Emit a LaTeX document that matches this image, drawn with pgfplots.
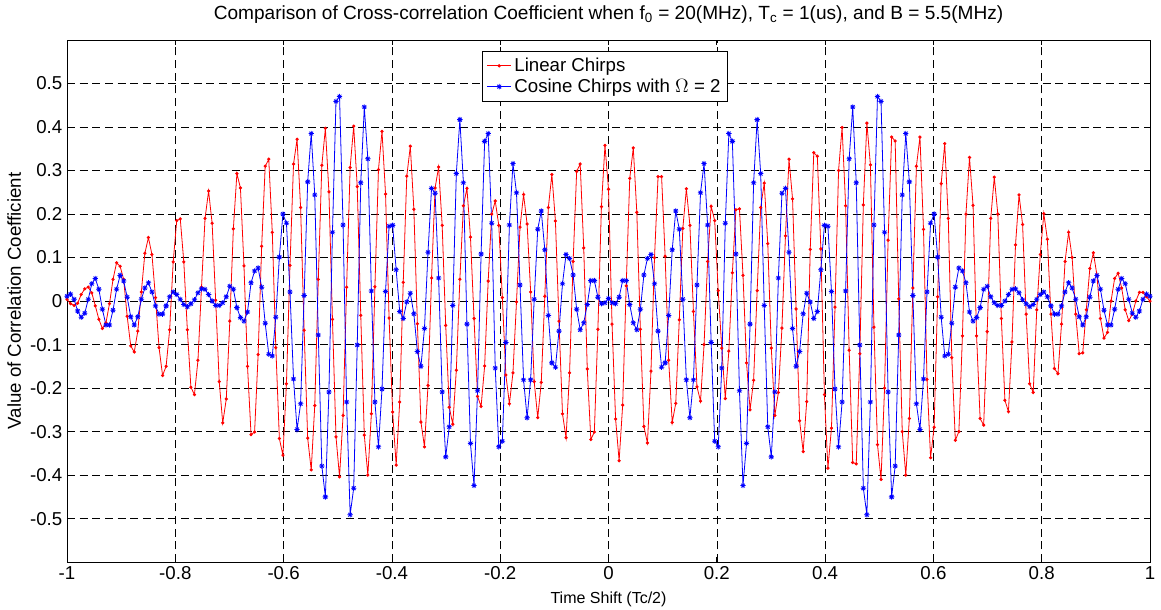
\documentclass[border=0pt]{standalone}
\usepackage{pgfplots}
\pgfplotsset{compat=1.18}
\usepackage{pgfplotstable}
\usepackage{fontspec}
\setmainfont{Liberation Sans}

\pgfdeclareplotmark{ast8}{%
  \pgfpathmoveto{\pgfqpoint{-\pgfplotmarksize}{0pt}}\pgfpathlineto{\pgfqpoint{\pgfplotmarksize}{0pt}}%
  \pgfpathmoveto{\pgfqpoint{0pt}{-\pgfplotmarksize}}\pgfpathlineto{\pgfqpoint{0pt}{\pgfplotmarksize}}%
  \pgfpathmoveto{\pgfqpoint{-0.707\pgfplotmarksize}{-0.707\pgfplotmarksize}}\pgfpathlineto{\pgfqpoint{0.707\pgfplotmarksize}{0.707\pgfplotmarksize}}%
  \pgfpathmoveto{\pgfqpoint{-0.707\pgfplotmarksize}{0.707\pgfplotmarksize}}\pgfpathlineto{\pgfqpoint{0.707\pgfplotmarksize}{-0.707\pgfplotmarksize}}%
  \pgfusepathqstroke}

\pgfplotstableread[row sep=\\, header=false]{
0.004\\ -0.006\\ -0.010\\ -0.005\\ 0.015\\ 0.028\\ 0.032\\ 0.019\\ -0.011\\ -0.042\\
-0.063\\ -0.050\\ -0.006\\ 0.050\\ 0.088\\ 0.080\\ 0.050\\ -0.035\\ -0.103\\ -0.117\\
-0.069\\ 0.021\\ 0.110\\ 0.146\\ 0.107\\ 0.008\\ -0.107\\ -0.171\\ -0.150\\ -0.066\\
0.090\\ 0.185\\ 0.189\\ 0.090\\ -0.066\\ -0.198\\ -0.215\\ -0.136\\ 0.032\\ 0.190\\
0.253\\ 0.179\\ 0.002\\ -0.185\\ -0.280\\ -0.225\\ -0.046\\ 0.166\\ 0.293\\ 0.260\\
0.081\\ -0.150\\ -0.307\\ -0.301\\ -0.123\\ 0.126\\ 0.310\\ 0.326\\ 0.158\\ -0.107\\
-0.316\\ -0.354\\ -0.190\\ 0.082\\ 0.315\\ 0.372\\ 0.215\\ -0.067\\ -0.315\\ -0.388\\
-0.240\\ 0.050\\ 0.312\\ 0.397\\ 0.251\\ -0.042\\ -0.312\\ -0.404\\ -0.263\\ 0.032\\
0.307\\ 0.402\\ 0.263\\ -0.033\\ -0.308\\ -0.400\\ -0.259\\ 0.033\\ 0.302\\ 0.390\\
0.246\\ -0.039\\ -0.255\\ -0.377\\ -0.232\\ 0.043\\ 0.287\\ 0.356\\ 0.211\\ -0.052\\
-0.278\\ -0.335\\ -0.194\\ 0.053\\ 0.260\\ 0.308\\ 0.174\\ -0.056\\ -0.244\\ -0.283\\
-0.159\\ 0.050\\ 0.219\\ 0.259\\ 0.147\\ -0.040\\ -0.219\\ -0.242\\ -0.149\\ 0.046\\
0.200\\ 0.230\\ 0.174\\ 0.008\\ -0.170\\ -0.236\\ -0.165\\ -0.002\\ 0.170\\ 0.245\\
0.177\\ 0.021\\ -0.185\\ -0.268\\ -0.187\\ 0.011\\ 0.215\\ 0.291\\ 0.184\\ -0.046\\
-0.259\\ -0.314\\ -0.165\\ 0.091\\ 0.298\\ 0.315\\ 0.122\\ -0.156\\ -0.318\\ -0.301\\
-0.065\\ 0.217\\ 0.358\\ 0.257\\ -0.053\\ -0.271\\ -0.367\\ -0.239\\ 0.035\\ 0.282\\
0.352\\ 0.204\\ -0.065\\ -0.288\\ -0.326\\ -0.161\\ 0.100\\ 0.286\\ 0.286\\ 0.103\\
-0.136\\ -0.279\\ -0.235\\ -0.043\\ 0.167\\ 0.258\\ 0.174\\ -0.024\\ -0.197\\ -0.230\\
-0.100\\ 0.091\\ 0.218\\ 0.185\\ 0.024\\ -0.108\\ -0.224\\ -0.115\\ 0.065\\ 0.210\\
0.212\\ 0.059\\ -0.142\\ -0.250\\ -0.182\\ 0.024\\ 0.215\\ 0.271\\ 0.132\\ -0.108\\
-0.263\\ -0.210\\ -0.062\\ 0.150\\ 0.326\\ 0.235\\ -0.018\\ -0.275\\ -0.346\\ -0.231\\
0.119\\ 0.341\\ 0.333\\ 0.120\\ -0.215\\ -0.384\\ -0.292\\ -0.014\\ 0.300\\ 0.399\\
0.219\\ -0.113\\ -0.371\\ -0.374\\ -0.121\\ 0.221\\ 0.409\\ 0.313\\ -0.060\\ -0.330\\
-0.410\\ -0.200\\ 0.140\\ 0.377\\ 0.368\\ 0.005\\ -0.300\\ -0.400\\ -0.270\\ 0.030\\
0.310\\ 0.377\\ 0.165\\ -0.180\\ -0.360\\ -0.290\\ 0.010\\ 0.270\\ 0.362\\ 0.190\\
-0.130\\ -0.320\\ -0.300\\ -0.080\\ 0.200\\ 0.330\\ 0.220\\ -0.080\\ -0.270\\ -0.285\\
-0.070\\ 0.190\\ 0.285\\ 0.200\\ -0.040\\ -0.228\\ -0.254\\ -0.094\\ 0.129\\ 0.244\\
0.176\\ -0.030\\ -0.190\\ -0.210\\ -0.020\\ 0.107\\ 0.201\\ 0.142\\ -0.030\\ -0.155\\
-0.167\\ -0.053\\ 0.091\\ 0.158\\ 0.100\\ -0.030\\ -0.121\\ -0.119\\ -0.020\\ 0.075\\
0.111\\ 0.060\\ -0.040\\ -0.085\\ -0.072\\ 0.000\\ 0.052\\ 0.064\\ 0.030\\ -0.020\\
-0.045\\ -0.030\\ 0.000\\ 0.020\\ 0.020\\ 0.010\\ 0.000\\
}\redtab

\pgfplotstableread[row sep=\\, header=false]{
0.011\\ 0.016\\ 0.004\\ -0.023\\ -0.037\\ -0.028\\ 0.004\\ 0.040\\ 0.052\\ 0.027\\
-0.019\\ -0.055\\ -0.055\\ -0.021\\ 0.027\\ 0.059\\ 0.046\\ 0.009\\ -0.036\\ -0.055\\
-0.036\\ 0.004\\ 0.030\\ 0.042\\ 0.021\\ -0.011\\ -0.030\\ -0.030\\ -0.011\\ 0.010\\
0.021\\ 0.015\\ 0.004\\ -0.008\\ -0.013\\ -0.006\\ 0.003\\ 0.019\\ 0.028\\ 0.027\\
0.015\\ 0.000\\ -0.010\\ -0.010\\ -0.004\\ 0.010\\ 0.034\\ 0.027\\ -0.015\\ -0.038\\
-0.046\\ -0.025\\ 0.042\\ 0.069\\ 0.076\\ 0.032\\ -0.051\\ -0.122\\ -0.126\\ -0.037\\
0.101\\ 0.200\\ 0.179\\ 0.021\\ -0.179\\ -0.295\\ -0.236\\ 0.013\\ 0.274\\ 0.385\\
0.244\\ -0.078\\ -0.379\\ -0.450\\ -0.209\\ 0.158\\ 0.459\\ 0.470\\ 0.175\\ -0.232\\
-0.491\\ -0.430\\ -0.101\\ 0.272\\ 0.446\\ 0.327\\ 0.023\\ -0.232\\ -0.335\\ -0.202\\
0.022\\ 0.172\\ 0.174\\ 0.072\\ -0.024\\ -0.040\\ -0.002\\ 0.018\\ -0.029\\ -0.116\\
-0.150\\ -0.063\\ 0.112\\ 0.259\\ 0.248\\ 0.053\\ -0.209\\ -0.358\\ -0.289\\ -0.010\\
0.293\\ 0.417\\ 0.272\\ -0.053\\ -0.327\\ -0.424\\ -0.206\\ 0.108\\ 0.367\\ 0.385\\
0.179\\ -0.154\\ -0.335\\ -0.322\\ -0.095\\ 0.175\\ 0.316\\ 0.249\\ 0.037\\ -0.181\\
-0.268\\ -0.181\\ 0.004\\ 0.165\\ 0.207\\ 0.118\\ -0.033\\ -0.142\\ -0.152\\ -0.069\\
0.040\\ 0.107\\ 0.098\\ 0.060\\ -0.019\\ -0.066\\ -0.050\\ -0.008\\ 0.047\\ 0.047\\
0.009\\ -0.006\\ -0.004\\ 0.006\\ -0.004\\ -0.006\\ 0.009\\ 0.047\\ 0.047\\ -0.008\\
-0.050\\ -0.066\\ -0.019\\ 0.060\\ 0.098\\ 0.107\\ 0.040\\ -0.069\\ -0.152\\ -0.142\\
-0.033\\ 0.118\\ 0.207\\ 0.165\\ 0.004\\ -0.181\\ -0.268\\ -0.181\\ 0.037\\ 0.249\\
0.316\\ 0.175\\ -0.095\\ -0.322\\ -0.335\\ -0.154\\ 0.179\\ 0.385\\ 0.367\\ 0.108\\
-0.206\\ -0.424\\ -0.327\\ -0.053\\ 0.272\\ 0.417\\ 0.293\\ -0.010\\ -0.289\\ -0.358\\
-0.209\\ 0.053\\ 0.248\\ 0.259\\ 0.112\\ -0.063\\ -0.150\\ -0.116\\ -0.029\\ 0.018\\
-0.002\\ -0.040\\ -0.024\\ 0.072\\ 0.174\\ 0.172\\ 0.022\\ -0.202\\ -0.335\\ -0.232\\
0.023\\ 0.327\\ 0.446\\ 0.272\\ -0.101\\ -0.430\\ -0.491\\ -0.232\\ 0.175\\ 0.470\\
0.459\\ 0.158\\ -0.209\\ -0.450\\ -0.379\\ -0.078\\ 0.244\\ 0.385\\ 0.274\\ 0.013\\
-0.236\\ -0.295\\ -0.179\\ 0.021\\ 0.179\\ 0.200\\ 0.101\\ -0.037\\ -0.126\\ -0.122\\
-0.051\\ 0.032\\ 0.076\\ 0.069\\ 0.042\\ -0.025\\ -0.046\\ -0.038\\ -0.015\\ 0.027\\
0.034\\ 0.010\\ -0.004\\ -0.010\\ -0.010\\ 0.000\\ 0.015\\ 0.027\\ 0.028\\ 0.019\\
0.003\\ -0.006\\ -0.013\\ -0.008\\ 0.004\\ 0.015\\ 0.021\\ 0.010\\ -0.011\\ -0.030\\
-0.030\\ -0.011\\ 0.021\\ 0.042\\ 0.030\\ 0.004\\ -0.036\\ -0.055\\ -0.036\\ 0.009\\
0.046\\ 0.059\\ 0.027\\ -0.021\\ -0.055\\ -0.055\\ -0.019\\ 0.027\\ 0.052\\ 0.040\\
0.004\\ -0.028\\ -0.037\\ -0.023\\ 0.004\\ 0.016\\ 0.011\\
}\bluetab

\begin{document}
\begin{tikzpicture}
\begin{axis}[
  name=ax,
  scale only axis,
  width=812pt, height=391.5pt,
  xmin=-1, xmax=1, ymin=-0.6, ymax=0.6,
  xtick={-1,-0.8,-0.6,-0.4,-0.2,0,0.2,0.4,0.6,0.8,1},
  xticklabels={-1,-0.8,-0.6,-0.4,-0.2,0,0.2,0.4,0.6,0.8,1},
  ytick={-0.5,-0.4,-0.3,-0.2,-0.1,0,0.1,0.2,0.3,0.4,0.5},
  yticklabels={-0.5,-0.4,-0.3,-0.2,-0.1,0,0.1,0.2,0.3,0.4,0.5},
  grid=major,
  major grid style={black, line width=0.45pt, dash pattern=on 6pt off 3.5pt},
  tick align=inside,
  major tick length=4pt,
  tick style={black, line width=0.5pt},
  axis line style={black, line width=0.6pt},
  ticklabel style={font=\fontsize{14}{16}\selectfont},
  xlabel={Time Shift (Tc/2)},
  ylabel={Value of Correlation Coefficient},
  xlabel style={font=\fontsize{12}{14}\selectfont, at={(0.5,0)}, anchor=base, yshift=-31pt},
  ylabel style={font=\fontsize{14}{16}\selectfont, at={(-0.0425,0.5)}, anchor=base},
  title={Comparison of Cross-correlation Coefficient when f\textsubscript{0} = 20(MHz), T\textsubscript{c} = 1(us), and B = 5.5(MHz)},
  title style={font=\fontsize{14.3}{16}\selectfont, at={(0.5,1)}, anchor=base, yshift=9.4pt},
  legend style={at={(0.3834,0.979)}, anchor=north west, draw=black, fill=white,
    line width=0.6pt, font=\fontsize{14}{16}\selectfont, cells={anchor=west},
    inner xsep=3pt, inner ysep=3pt, row sep=0pt},
  legend image code/.code={\draw[mark repeat=2, mark phase=2, #1] plot coordinates {(0cm,0cm) (0.32cm,0cm) (0.64cm,0cm)};},
]
\addplot[red, line width=0.6pt, mark=*, mark size=0.9pt, mark options={solid}]
  table[x expr=\coordindex/153-1, y index=0] {\redtab};
\addlegendentry{Linear Chirps}
\addplot[blue, line width=0.6pt, mark=ast8, mark size=2pt, mark options={solid, line width=0.6pt}]
  table[x expr=\coordindex/153-1, y index=0] {\bluetab};
\addlegendentry{Cosine Chirps with $\Omega$ = 2}
\end{axis}
\pgfresetboundingbox
\path[use as bounding box] ([xshift=-50.25pt,yshift=-35.25pt]ax.south west) rectangle ([xshift=8.25pt,yshift=30pt]ax.north east);
\end{tikzpicture}
\end{document}
